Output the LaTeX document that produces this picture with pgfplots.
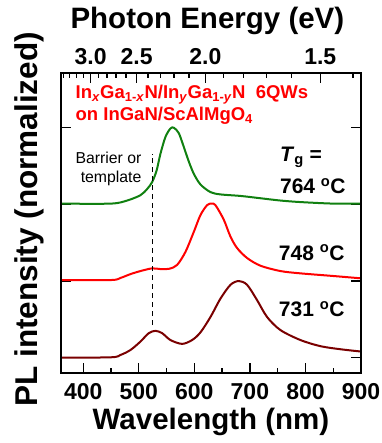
\documentclass[border=0pt]{standalone}
\usepackage{pgfplots}
\pgfplotsset{compat=1.18}
\usepackage{fontspec}
\setmainfont{Liberation Sans}
\definecolor{cgreen}{RGB}{16,128,16}
\definecolor{cred}{RGB}{255,0,0}
\definecolor{cbrown}{RGB}{122,0,0}
\pgfplotsset{
  myframe/.style={
    at={(61bp,70.3bp)}, anchor=south west,
    scale only axis, width=300bp, height=299.4bp,
    xmin=360, xmax=900,
    tick align=inside,
    major tick length=10bp, minor tick length=5bp,
    every tick/.append style={black, line width=1.3bp},
    /pgf/number format/assume math mode=true,
  }
}
\begin{document}
\begin{tikzpicture}
\begin{axis}[myframe, name=main,
  ymin=-0.196, ymax=3.71,
  axis line style={draw=black, line width=1.8bp},
  xtick={400,500,...,900},
  xticklabels={{\bfseries 400},{\bfseries 500},{\bfseries 600},{\bfseries 700},{\bfseries 800},{\bfseries 900}},
  minor xtick={450,550,650,750,850},
  xtick pos=lower,
  ytick={0,1,2,3}, yticklabels={}, ytick pos=both,
  xticklabel style={font=\fontsize{23bp}{23bp}\selectfont\bfseries, anchor=base, yshift=-27.3bp},
  xlabel={Wavelength (nm)},
  xlabel style={font=\fontsize{29.5bp}{30bp}\selectfont\bfseries, at={(axis description cs:0.5,-0.189)}, anchor=base},
  ylabel={PL intensity (normalized)},
  ylabel style={font=\fontsize{31.5bp}{32bp}\selectfont\bfseries, at={(axis description cs:-0.0767,0.512)}, anchor=base},
]
\addplot[cbrown, line width=2bp, smooth, tension=0.5] coordinates {
(360,0.0) (450,0.005) (467,0.035) (485,0.10) (503,0.21) (518,0.32) (530,0.35) (542,0.32) (557,0.23) (578,0.18) (596,0.23) (611,0.33) (629,0.53) (647,0.77) (665,0.95) (680,1.0) (695,0.95) (713,0.75) (731,0.53) (755,0.36) (791,0.23) (827,0.15) (863,0.11) (900,0.08)};
\addplot[cred, line width=2bp, smooth, tension=0.5] coordinates {
(360,1.013) (450,1.013) (467,1.04) (485,1.09) (503,1.13) (524,1.165) (540,1.155) (555,1.16) (569,1.21) (584,1.38) (599,1.64) (611,1.86) (623,1.99) (631,2.01) (638,1.99) (653,1.80) (665,1.58) (677,1.43) (695,1.30) (719,1.20) (755,1.13) (791,1.10) (851,1.065) (900,1.035)};
\addplot[cgreen, line width=2bp, smooth, tension=0.5] coordinates {
(360,2.01) (450,2.01) (479,2.05) (503,2.12) (515,2.20) (524,2.29) (532,2.44) (539,2.66) (548,2.88) (557,2.99) (563,3.0) (572,2.93) (581,2.75) (590,2.56) (599,2.40) (611,2.26) (629,2.16) (647,2.13) (683,2.11) (719,2.08) (755,2.05) (791,2.03) (850,2.01) (900,2.01)};
\addplot[black, line width=1.2bp, dash pattern=on 5bp off 4bp] coordinates {(524,0.426) (524,2.66)};
\node[anchor=base west, inner sep=0, text=cred, font=\fontsize{18.5bp}{20bp}\selectfont\bfseries] at (axis cs:386,3.38) {In\textsubscript{\textit{x}}Ga\textsubscript{1-\textit{x}}N/In\textsubscript{\textit{y}}Ga\textsubscript{1-\textit{y}}N\ \ 6QWs};
\node[anchor=base west, inner sep=0, text=cred, font=\fontsize{18.5bp}{20bp}\selectfont\bfseries] at (axis cs:386,3.10) {on InGaN/ScAlMgO\textsubscript{4}};
\node[anchor=base east, inner sep=0, font=\fontsize{15.8bp}{18bp}\selectfont] at (axis cs:505,2.535) {Barrier or};
\node[anchor=base east, inner sep=0, font=\fontsize{15.8bp}{18bp}\selectfont] at (axis cs:505,2.28) {template};
\node[anchor=base west, inner sep=0, font=\fontsize{21bp}{23bp}\selectfont\bfseries] at (axis cs:754,2.565) {\textit{T}\textsubscript{g} =};
\node[anchor=base west, inner sep=0, font=\fontsize{21bp}{23bp}\selectfont\bfseries] at (axis cs:754,2.14) {764 \textsuperscript{o}C};
\node[anchor=base west, inner sep=0, font=\fontsize{21bp}{23bp}\selectfont\bfseries] at (axis cs:752,1.27) {748 \textsuperscript{o}C};
\node[anchor=base west, inner sep=0, font=\fontsize{21bp}{23bp}\selectfont\bfseries] at (axis cs:752,0.535) {731 \textsuperscript{o}C};
\end{axis}
\begin{axis}[myframe,
  ymin=0, ymax=1,
  axis x line*=top, axis y line=none,
  ytick=\empty,
  xtick={413.333,496,620,826.667}, xticklabels={{\bfseries 3.0},{\bfseries 2.5},{\bfseries 2.0},{\bfseries 1.5}},
  minor xtick={364.706,375.758,387.5,400,427.586,442.857,459.259,476.923,516.667,539.130,563.636,590.476,652.632,688.889,729.412,775,885.714},
  xticklabel style={font=\fontsize{23bp}{23bp}\selectfont\bfseries, anchor=base, yshift=8.3bp},
  xlabel={Photon Energy (eV)},
  xlabel style={font=\fontsize{29.5bp}{30bp}\selectfont\bfseries, at={(axis description cs:0.488,1.150)}, anchor=base},
]
\end{axis}
\draw[black, line width=1.8bp, line join=miter] (main.south west) -- (main.south east) -- (main.north east) -- (main.north west) -- cycle;
\pgfresetboundingbox
\path[use as bounding box] (0,0) rectangle (382bp,443bp);
\end{tikzpicture}
\end{document}
